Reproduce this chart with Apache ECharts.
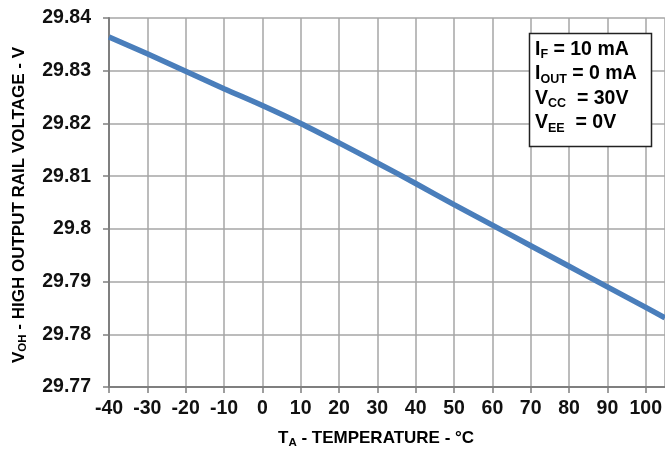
<!DOCTYPE html>
<html>
<head>
<meta charset="utf-8">
<script src="https://cdn.jsdelivr.net/npm/echarts@6/dist/echarts.min.js"></script>
<style>
html,body{margin:0;padding:0;background:#fff;}
#c{width:665px;height:460px;}
</style>
</head>
<body>
<div id="c"></div>
<script>
var temperatures = [-40, -30, -20, -10, 0, 10, 20, 30, 40, 50, 60, 70, 80, 90, 100, 105];
var vohValues = [29.8364, 29.8332, 29.8299, 29.8266, 29.8234, 29.8200, 29.8163, 29.8125, 29.8086, 29.8046, 29.8007, 29.7968, 29.7929, 29.7890, 29.7851, 29.7831];
var xTicks = [-40, -30, -20, -10, 0, 10, 20, 30, 40, 50, 60, 70, 80, 90, 100];
var yTicks = [29.77, 29.78, 29.79, 29.80, 29.81, 29.82, 29.83, 29.84];

var FONT = "'Liberation Sans', Arial, sans-serif";
var chart = echarts.init(document.getElementById('c'));
var pts = temperatures.map(function (t, i) { return [t, vohValues[i]]; });

var mainSt = {fontFamily: FONT, fontWeight: 'bold', fontSize: 17, color: '#111', lineHeight: 20};
var subSt = {fontFamily: FONT, fontWeight: 'bold', fontSize: 11.5, color: '#111', verticalAlign: 'bottom', lineHeight: 11};
var boxSt = {fontFamily: FONT, fontWeight: 'bold', fontSize: 19.5, color: '#111', lineHeight: 24.5};
var boxSub = {fontFamily: FONT, fontWeight: 'bold', fontSize: 12.5, color: '#111', verticalAlign: 'bottom', lineHeight: 12.5};

chart.setOption({
  animation: false,
  backgroundColor: '#fff',
  grid: {left: 109, top: 18, right: 0, bottom: 73, containLabel: false},
  xAxis: {
    type: 'value', min: xTicks[0], max: 105, interval: 10,
    axisLine: {show: true, onZero: false, lineStyle: {color: '#7f7f7f', width: 2}},
    axisTick: {show: true, length: 6, lineStyle: {color: '#7f7f7f', width: 1.5}},
    splitLine: {show: true, lineStyle: {color: '#a6a6a6', width: 1.5}},
    axisLabel: {margin: 12, showMaxLabel: false, fontFamily: FONT, fontWeight: 'bold', fontSize: 19.5, color: '#111'}
  },
  yAxis: {
    type: 'value', min: yTicks[0], max: yTicks[yTicks.length - 1], interval: 0.01,
    axisLine: {show: true, onZero: false, lineStyle: {color: '#7f7f7f', width: 2}},
    axisTick: {show: true, length: 6, lineStyle: {color: '#7f7f7f', width: 1.5}},
    splitLine: {show: true, lineStyle: {color: '#a6a6a6', width: 1.5}},
    axisLabel: {margin: 18, fontFamily: FONT, fontWeight: 'bold', fontSize: 19.5, color: '#111',
      formatter: function (v) { return String(Math.round(v * 100) / 100); }}
  },
  series: [{
    type: 'line', data: pts, smooth: 0.3, symbol: 'none',
    lineStyle: {color: '#4a7ebb', width: 5.5}
  }],
  graphic: [
    {type: 'text', left: 278, top: 430, z: 10, style: {
      text: '{m|T}{s|A}{m| - TEMPERATURE - °C}', rich: {m: mainSt, s: subSt}}},
    {type: 'text', rotation: Math.PI / 2, x: 9, y: 363, z: 10, style: {
      text: '{m|V}{s|OH}{m| - HIGH OUTPUT RAIL VOLTAGE - V}', rich: {m: mainSt, s: subSt},
      textAlign: 'left', textVerticalAlign: 'top'}},
    {type: 'rect', shape: {x: 529.5, y: 33.5, width: 122, height: 113},
      style: {fill: '#fff', stroke: '#222', lineWidth: 1.5}, z: 20},
    {type: 'text', x: 535, y: 37, z: 21, style: {
      text: '{m|I}{s|F}{m| = 10 mA}\n{m|I}{s|OUT}{m| = 0 mA}\n{m|V}{s|CC}{m|  = 30V}\n{m|V}{s|EE}{m|  = 0V}',
      rich: {m: boxSt, s: boxSub}}}
  ]
});
</script>
</body>
</html>
